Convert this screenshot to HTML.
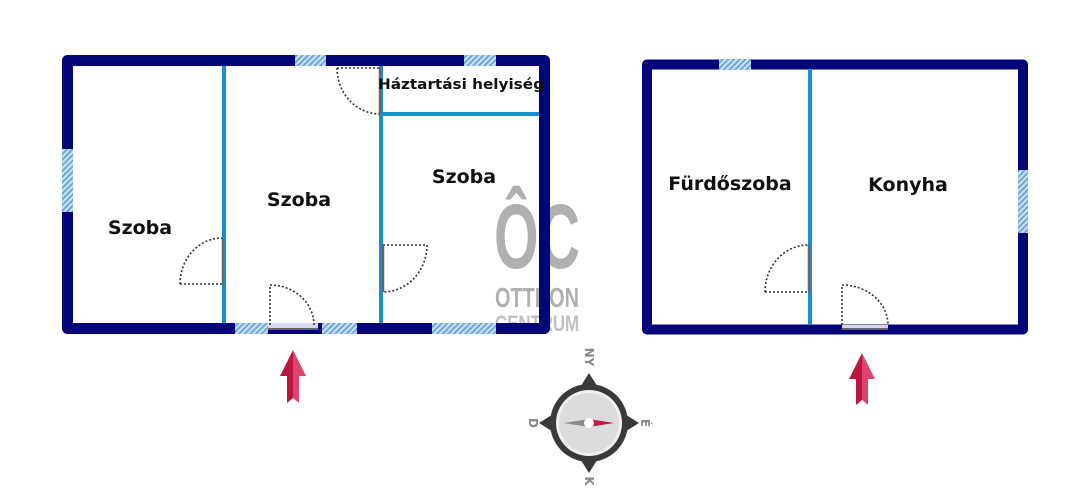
<!DOCTYPE html>
<html><head><meta charset="utf-8"><style>
html,body{margin:0;padding:0;background:#fff;}
svg{display:block;}
text{font-family:"DejaVu Sans","Liberation Sans",sans-serif;font-weight:bold;fill:#111;}
</style></head><body>
<svg width="1074" height="500" viewBox="0 0 1074 500" xmlns="http://www.w3.org/2000/svg">
<defs>
<pattern id="h" width="4" height="4" patternUnits="userSpaceOnUse" patternTransform="rotate(45)">
<rect width="4" height="4" fill="#cfe3f5"/><rect width="2" height="4" fill="#6aa8dc"/>
</pattern>
</defs>
<!-- watermark -->
<g>
<text x="537" y="268" font-size="92" text-anchor="middle" style="fill:#b0b0b0;font-family:'Liberation Sans Narrow','Liberation Sans',sans-serif;font-weight:bold" textLength="86" lengthAdjust="spacingAndGlyphs">ÔC</text>
<text x="537" y="307" font-size="28" text-anchor="middle" style="fill:#b0b0b0;font-family:'Liberation Sans Narrow','Liberation Sans',sans-serif;font-weight:bold" textLength="84" lengthAdjust="spacingAndGlyphs">OTTHON</text>
<text x="537" y="331" font-size="22" text-anchor="middle" style="fill:#c0c0c0;font-family:'Liberation Sans Narrow','Liberation Sans',sans-serif;font-weight:bold" textLength="84" lengthAdjust="spacingAndGlyphs">CENTRUM</text>
</g>
<!-- left building -->
<g>
<rect x="67.5" y="60.5" width="477" height="268" fill="none" stroke="#05057a" stroke-width="11" stroke-linejoin="round"/>
<line x1="224" y1="66" x2="224" y2="323" stroke="#1a8fd0" stroke-width="4"/>
<line x1="381" y1="66" x2="381" y2="323" stroke="#1a8fd0" stroke-width="4"/>
<line x1="381" y1="114" x2="539" y2="114" stroke="#1a8fd0" stroke-width="4"/>
<rect x="295" y="55" width="31" height="11" fill="url(#h)"/>
<rect x="464" y="55" width="32" height="11" fill="url(#h)"/>
<rect x="62" y="149" width="11" height="63" fill="url(#h)"/>
<rect x="235" y="323" width="33" height="11" fill="url(#h)"/>
<rect x="322" y="323" width="35" height="11" fill="url(#h)"/>
<rect x="432" y="323" width="64" height="11" fill="url(#h)"/>
<rect x="268" y="323" width="50" height="6" fill="#d8d8ec"/>
<line x1="268" y1="329" x2="318" y2="329" stroke="#666" stroke-width="2"/>
<g fill="none" stroke="#333" stroke-width="1.6" stroke-dasharray="2,2">
<path d="M180 284 H222 M180 284 A42 46 0 0 1 222 238"/>
<path d="M270 325 V285 A44 40 0 0 1 314 325"/>
<path d="M337 68 H380 M337 68 A43 46 0 0 0 380 114"/>
<path d="M383 245 H427 A44 47 0 0 1 383 292"/>
</g>
<g stroke="#666" stroke-width="2.5">
<line x1="223" y1="238" x2="223" y2="284"/>
<line x1="380" y1="68" x2="380" y2="114"/>
<line x1="383" y1="245" x2="383" y2="292"/>
</g>
<text x="140" y="234" font-size="19" text-anchor="middle">Szoba</text>
<text x="299" y="206" font-size="19" text-anchor="middle">Szoba</text>
<text x="464" y="183" font-size="19" text-anchor="middle">Szoba</text>
<text x="461" y="89" font-size="14.5" text-anchor="middle" textLength="166" lengthAdjust="spacingAndGlyphs">Háztartási helyiség</text>
</g>
<!-- right building -->
<g>
<rect x="647" y="64.5" width="376" height="265" fill="none" stroke="#05057a" stroke-width="10" stroke-linejoin="round"/>
<line x1="810" y1="69" x2="810" y2="325" stroke="#1a8fd0" stroke-width="4"/>
<rect x="719" y="59" width="32" height="11" fill="url(#h)"/>
<rect x="1018" y="170" width="10" height="63" fill="url(#h)"/>
<rect x="842" y="325" width="46" height="4" fill="#d8d8ec"/>
<line x1="842" y1="329" x2="888" y2="329" stroke="#666" stroke-width="2"/>
<g fill="none" stroke="#333" stroke-width="1.6" stroke-dasharray="2,2">
<path d="M765 292 H808 M765 292 A43 47 0 0 1 808 245"/>
<path d="M842 325 V285 A46 40 0 0 1 888 325"/>
</g>
<line x1="809" y1="245" x2="809" y2="292" stroke="#666" stroke-width="2.5"/>
<text x="730" y="190" font-size="19" text-anchor="middle">Fürdőszoba</text>
<text x="908" y="191" font-size="19" text-anchor="middle">Konyha</text>
</g>
<!-- arrows -->
<g>
<polygon points="293,350 280,376 287,376 287,403 293,398" fill="#b8183e"/>
<polygon points="293,350 306,376 299,376 299,403 293,398" fill="#e0426c"/>
<polygon points="862,353 849,379 856,379 856,405 862,400" fill="#b8183e"/>
<polygon points="862,353 875,379 868,379 868,405 862,400" fill="#e0426c"/>
</g>
<!-- compass -->
<g transform="translate(589,423)">
<polygon points="0,-50 -10,-34 10,-34" fill="#3a3a3a"/>
<polygon points="0,50 -10,34 10,34" fill="#3a3a3a"/>
<polygon points="-50,0 -34,-10 -34,10" fill="#3a3a3a"/>
<polygon points="50,0 34,-10 34,10" fill="#3a3a3a"/>
<circle r="39" fill="#3a3a3a"/>
<circle r="33" fill="#f0f0f0"/>
<circle r="30" fill="#dcdcdc"/>
<polygon points="-25,0 0,-4 0,4" fill="#8a8a8a"/>
<polygon points="25,0 0,-4 0,4" fill="#c8154a"/>
<circle r="5" fill="#fff"/>
<text x="0" y="-62" font-size="12" text-anchor="middle" transform="rotate(90 0 -66)" style="fill:#888">NY</text>
<text x="56" y="4" font-size="12" text-anchor="middle" transform="rotate(90 56 0)" style="fill:#888">É</text>
<text x="0" y="62" font-size="12" text-anchor="middle" transform="rotate(90 0 58)" style="fill:#888">K</text>
<text x="-56" y="4" font-size="12" text-anchor="middle" transform="rotate(90 -56 0)" style="fill:#888">D</text>
</g>
</svg>
</body></html>
